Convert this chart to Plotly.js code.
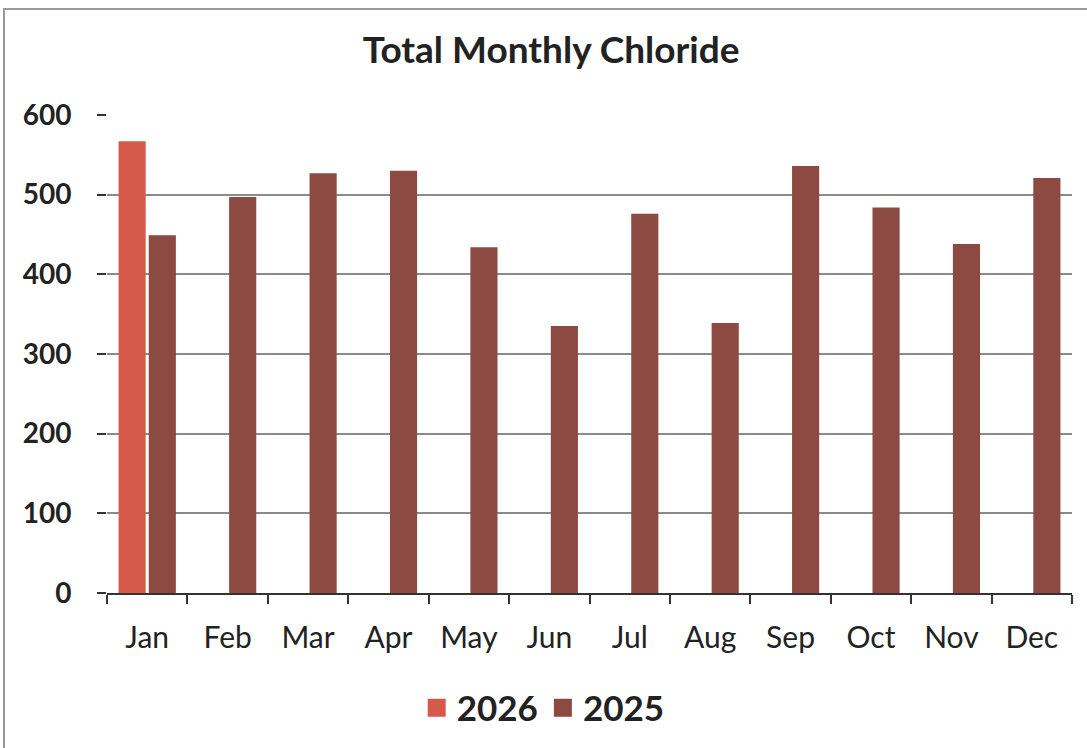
<!DOCTYPE html>
<html>
<head>
<meta charset="utf-8">
<script src="https://cdn.plot.ly/plotly-3.0.1.min.js"></script>
<style>
  html, body { margin: 0; padding: 0; background: #fff; }
  #frame { position: absolute; left: 3px; top: 8px; width: 1084px; height: 740px;
           border-left: 2px solid #999; border-top: 2px solid #999; }
  #chart { position: absolute; left: 0; top: 0; width: 1087px; height: 748px; }
</style>
</head>
<body>
<div id="frame"></div>
<div id="chart"></div>
<script>
const months = ["Jan","Feb","Mar","Apr","May","Jun","Jul","Aug","Sep","Oct","Nov","Dec"];
const values2026 = [567, null, null, null, null, null, null, null, null, null, null, null];
const values2025 = [449, 497, 527, 530, 434, 335, 476, 339, 536, 484, 438, 521];
const yTicks = [0, 100, 200, 300, 400, 500, 600];
const seriesNames = ["2026", "2025"];
const seriesColors = ["#D65A4C", "#8C4A43"];

const fontFam = "Lato, 'Open Sans', sans-serif";

const traces = [
  { type: "bar", name: seriesNames[0], x: months, y: values2026, marker: { color: seriesColors[0] }, showlegend: false },
  { type: "bar", name: seriesNames[1], x: months, y: values2025, marker: { color: seriesColors[1] }, showlegend: false },
  // legend-only entries with larger square swatches
  { type: "scatter", mode: "markers", name: seriesNames[0], x: [null], y: [null],
    marker: { symbol: "square", size: 16, color: seriesColors[0], line: { color: seriesColors[0], width: 2 } }, hoverinfo: "skip" },
  { type: "scatter", mode: "markers", name: seriesNames[1], x: [null], y: [null],
    marker: { symbol: "square", size: 16, color: seriesColors[1], line: { color: seriesColors[1], width: 2 } }, hoverinfo: "skip" }
];

const layout = {
  width: 1087, height: 748,
  paper_bgcolor: "rgba(0,0,0,0)", plot_bgcolor: "rgba(0,0,0,0)",
  margin: { l: 107, r: 15, t: 115, b: 154 },
  barmode: "group", bargap: 0.25, bargroupgap: 0.1,
  title: { text: "<b>Total Monthly Chloride</b>", x: 0.507, xref: "container", xanchor: "center",
           y: 0.933, yref: "container", yanchor: "middle",
           font: { family: fontFam, size: 37, color: "#222" } },
  xaxis: {
    type: "category", tickson: "boundaries", ticks: "outside", ticklen: 9, tickwidth: 2, tickcolor: "#333",
    showline: true, linecolor: "#333", linewidth: 2,
    tickfont: { family: fontFam, size: 30, color: "#222" }, ticklabelstandoff: 17
  },
  yaxis: {
    range: [0, 600], tickvals: yTicks, ticks: "outside", ticklen: 9, tickwidth: 2, tickcolor: "#333",
    showline: false, showgrid: true, gridcolor: "#8a8a8a", gridwidth: 1.5, zeroline: false,
    tickfont: { family: fontFam, size: 28, color: "#222", weight: "bold" }, ticklabelstandoff: 20
  },
  showlegend: true,
  legend: { orientation: "h", x: 0.452, xanchor: "center", xref: "paper", y: -0.238, yanchor: "middle",
            font: { family: fontFam, size: 35, color: "#222", weight: "bold" }, itemwidth: 30,
            traceorder: "normal" }
};

Plotly.newPlot("chart", traces, layout, { displayModeBar: false });
</script>
</body>
</html>
